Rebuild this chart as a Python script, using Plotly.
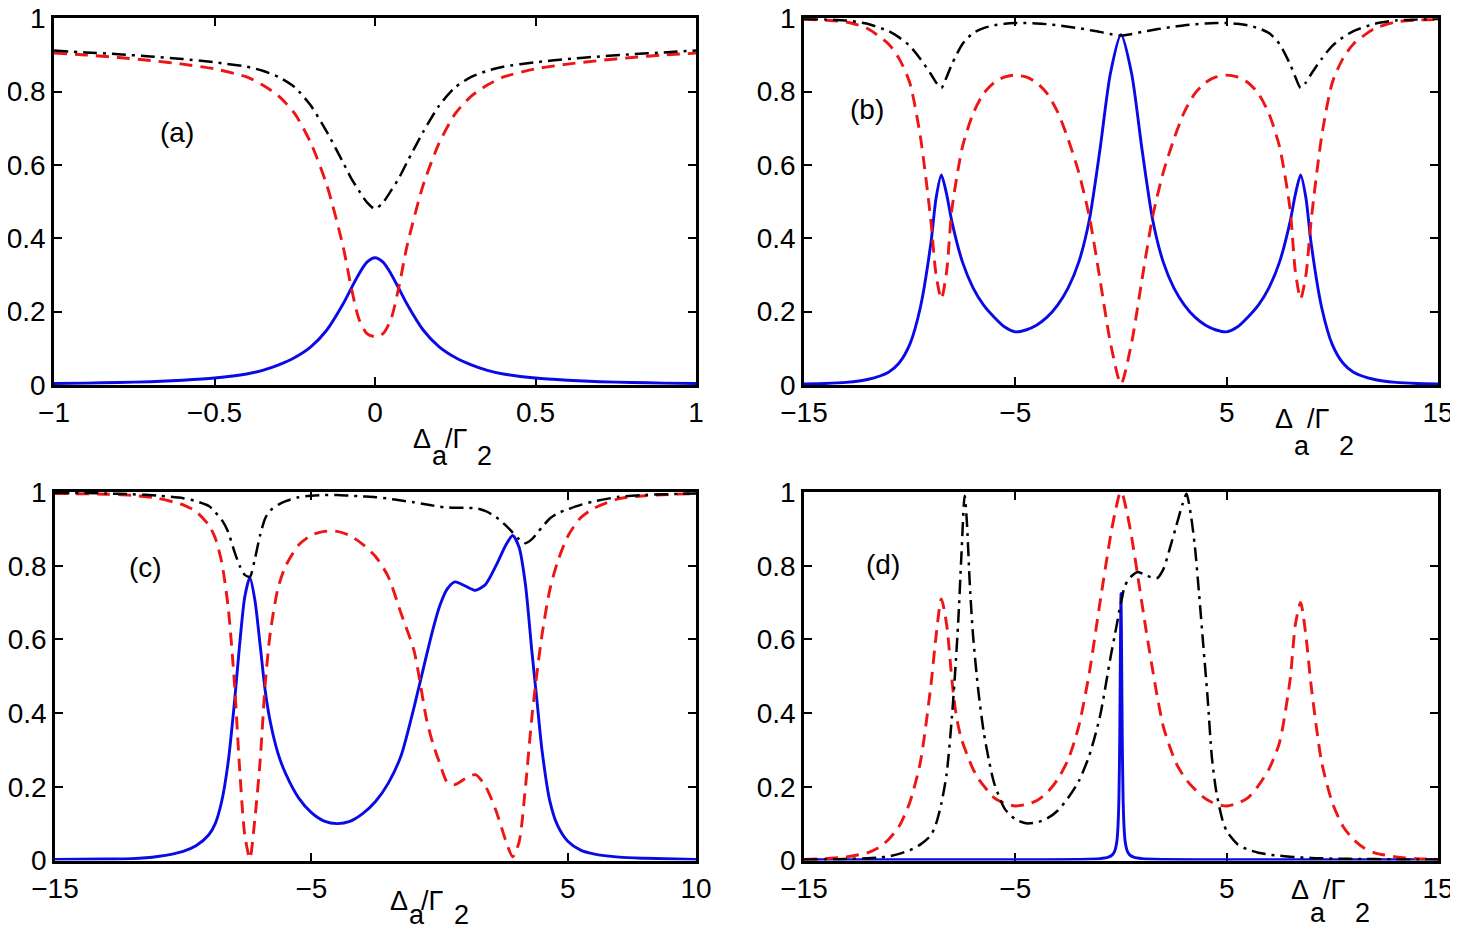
import plotly.graph_objects as go

# page is 1458x932; the html body has an 8px margin, so the figure itself is 8px smaller
OFF = 8
W, H = 1458 - OFF, 932 - OFF

# ---------------- data ----------------
# panel (a)
a_x = [-1, -0.9, -0.8, -0.7, -0.6, -0.5, -0.4, -0.35, -0.3, -0.25, -0.2, -0.15, -0.1, -0.075, -0.05, -0.025,
       0, 0.025, 0.05, 0.075, 0.1, 0.15, 0.2, 0.25, 0.3, 0.35, 0.4, 0.5, 0.6, 0.7, 0.8, 0.9, 1]
a_blue = [0.004, 0.005, 0.007, 0.009, 0.013, 0.019, 0.030, 0.040, 0.055, 0.075, 0.104, 0.150, 0.220, 0.262, 0.303, 0.335,
          0.347, 0.335, 0.303, 0.262, 0.220, 0.150, 0.104, 0.075, 0.055, 0.040, 0.030, 0.019, 0.013, 0.009, 0.007, 0.005, 0.004]
a_red = [0.905, 0.900, 0.893, 0.885, 0.875, 0.862, 0.840, 0.818, 0.788, 0.740, 0.660, 0.545, 0.380, 0.270, 0.180, 0.140,
         0.132, 0.140, 0.180, 0.270, 0.380, 0.545, 0.660, 0.740, 0.788, 0.818, 0.840, 0.862, 0.875, 0.885, 0.893, 0.900, 0.905]
a_black = [0.912, 0.907, 0.902, 0.896, 0.889, 0.880, 0.868, 0.857, 0.840, 0.812, 0.762, 0.690, 0.608, 0.565, 0.530, 0.498,
           0.480, 0.498, 0.530, 0.565, 0.608, 0.690, 0.762, 0.812, 0.840, 0.857, 0.868, 0.880, 0.889, 0.896, 0.902, 0.907, 0.912]

# panel (b)
b_x = [-15, -14, -13, -12, -11, -10.5, -10, -9.5, -9, -8.75, -8.5, -8.25, -8, -7.5, -7, -6.5, -6, -5.5, -5, -4.5,
       -4, -3.5, -3, -2.5, -2, -1.5, -1, -0.5, 0, 0.5, 1, 1.5, 2, 2.5, 3, 3.5, 4, 4.5, 5, 5.5, 6, 6.5, 7, 7.5,
       8, 8.25, 8.5, 8.75, 9, 9.5, 10, 10.5, 11, 12, 13, 14, 15]
b_blue = [0.003, 0.004, 0.007, 0.015, 0.035, 0.060, 0.11, 0.21, 0.385, 0.51, 0.573, 0.52, 0.445, 0.335, 0.265, 0.218, 0.185, 0.158, 0.145, 0.150,
          0.163, 0.185, 0.218, 0.265, 0.335, 0.45, 0.64, 0.85, 0.955, 0.85, 0.64, 0.45, 0.335, 0.265, 0.218, 0.185, 0.163, 0.150, 0.145, 0.158, 0.185, 0.218, 0.265, 0.335,
          0.445, 0.52, 0.573, 0.51, 0.385, 0.21, 0.11, 0.060, 0.035, 0.015, 0.007, 0.004, 0.003]
b_red = [0.997, 0.995, 0.99, 0.972, 0.93, 0.89, 0.825, 0.68, 0.45, 0.30, 0.235, 0.31, 0.48, 0.65, 0.74, 0.795, 0.825, 0.84, 0.845, 0.84,
         0.825, 0.795, 0.745, 0.67, 0.58, 0.46, 0.29, 0.115, 0.003, 0.115, 0.29, 0.46, 0.58, 0.67, 0.745, 0.795, 0.825, 0.84, 0.845, 0.84, 0.825, 0.795, 0.74, 0.65,
         0.48, 0.31, 0.235, 0.30, 0.45, 0.68, 0.825, 0.89, 0.93, 0.972, 0.99, 0.995, 0.997]
b_black = [0.998, 0.997, 0.994, 0.985, 0.965, 0.948, 0.925, 0.89, 0.848, 0.825, 0.81, 0.84, 0.875, 0.93, 0.96, 0.973, 0.981, 0.985, 0.987, 0.987,
           0.986, 0.984, 0.981, 0.977, 0.973, 0.968, 0.963, 0.957, 0.953, 0.957, 0.963, 0.968, 0.973, 0.977, 0.981, 0.984, 0.986, 0.987, 0.987, 0.985, 0.981, 0.973, 0.96, 0.93,
           0.875, 0.84, 0.81, 0.825, 0.848, 0.89, 0.925, 0.948, 0.965, 0.985, 0.994, 0.997, 0.998]

# panel (c)
c_x = [-15, -13, -12, -11, -10, -9.5, -9, -8.75, -8.5, -8.25, -8, -7.8, -7.6, -7.4, -7.2, -7, -6.8, -6.6, -6.3, -6,
       -5.5, -5, -4.5, -4, -3.5, -3, -2.5, -2, -1.5, -1, -0.5, -0.25, 0, 0.3, 0.6, 1, 1.4, 1.8, 2.2, 2.6, 2.85,
       3.1, 3.35, 3.6, 3.8, 4, 4.3, 4.6, 5, 5.5, 6, 7, 8, 10]
c_blue = [0.003, 0.004, 0.005, 0.011, 0.025, 0.04, 0.07, 0.1, 0.16, 0.265, 0.43, 0.585, 0.715, 0.768, 0.705, 0.585, 0.46, 0.375, 0.29, 0.235,
          0.17, 0.13, 0.107, 0.1, 0.106, 0.127, 0.16, 0.21, 0.285, 0.415, 0.56, 0.63, 0.69, 0.737, 0.756, 0.745, 0.733, 0.75, 0.80, 0.858, 0.882,
          0.85, 0.748, 0.567, 0.432, 0.296, 0.161, 0.095, 0.052, 0.028, 0.018, 0.009, 0.006, 0.003]
c_red = [0.996, 0.994, 0.991, 0.983, 0.965, 0.947, 0.91, 0.875, 0.81, 0.69, 0.48, 0.25, 0.07, 0.005, 0.116, 0.27, 0.48, 0.62, 0.74, 0.80,
         0.856, 0.883, 0.893, 0.893, 0.882, 0.858, 0.825, 0.77, 0.67, 0.57, 0.38, 0.315, 0.265, 0.212, 0.206, 0.222, 0.233, 0.2, 0.135, 0.05, 0.01,
         0.05, 0.2, 0.39, 0.51, 0.615, 0.735, 0.81, 0.88, 0.93, 0.955, 0.982, 0.99, 0.996]
c_black = [0.998, 0.996, 0.994, 0.99, 0.983, 0.975, 0.962, 0.945, 0.925, 0.892, 0.838, 0.80, 0.775, 0.77, 0.82, 0.883, 0.929, 0.95, 0.965, 0.975,
           0.986, 0.99, 0.992, 0.992, 0.99, 0.988, 0.986, 0.982, 0.977, 0.972, 0.966, 0.963, 0.96, 0.958, 0.957, 0.957, 0.956, 0.948, 0.932, 0.908, 0.89,
           0.872, 0.861, 0.872, 0.888, 0.905, 0.928, 0.942, 0.953, 0.965, 0.974, 0.987, 0.992, 0.996]

# panel (d)
d_x = [-15, -14, -13, -12, -11.5, -11, -10.5, -10, -9.5, -9, -8.75, -8.5, -8.25, -8, -7.85, -7.7, -7.55, -7.4, -7.3, -7.15,
       -7, -6.75, -6.5, -6.25, -6, -5.5, -5, -4.5, -4, -3.5, -3, -2.5, -2, -1.5, -1, -0.5, -0.3, -0.15, -0.075, 0,
       0.075, 0.15, 0.3, 0.5, 0.8, 1.2, 1.7, 2, 2.3, 2.6, 2.9, 3.1, 3.3, 3.5, 3.7, 3.9, 4.1, 4.3, 4.5, 4.8,
       5, 5.5, 6, 6.5, 7, 7.5, 8, 8.25, 8.5, 8.75, 9, 9.5, 10, 10.5, 11, 11.5, 12, 13, 14, 15]
d_red = [0.003, 0.005, 0.01, 0.021, 0.034, 0.057, 0.093, 0.157, 0.265, 0.473, 0.61, 0.71, 0.64, 0.49, 0.415, 0.365, 0.33, 0.305, 0.29, 0.268,
         0.248, 0.222, 0.203, 0.185, 0.17, 0.155, 0.148, 0.152, 0.162, 0.184, 0.22, 0.274, 0.364, 0.509, 0.698, 0.879, 0.94, 0.978, 0.994, 1.0,
         0.994, 0.978, 0.94, 0.879, 0.77, 0.62, 0.45, 0.364, 0.31, 0.265, 0.235, 0.218, 0.205, 0.193, 0.182, 0.172, 0.164, 0.158, 0.153, 0.149,
         0.148, 0.155, 0.17, 0.203, 0.248, 0.32, 0.49, 0.64, 0.70, 0.61, 0.473, 0.265, 0.157, 0.093, 0.057, 0.034, 0.021, 0.01, 0.005, 0.003]
d_black = [0.003, 0.003, 0.004, 0.006, 0.008, 0.011, 0.018, 0.028, 0.043, 0.068, 0.1, 0.155, 0.235, 0.39, 0.51, 0.65, 0.83, 0.99, 0.925, 0.745,
           0.61, 0.46, 0.35, 0.272, 0.21, 0.14, 0.112, 0.101, 0.103, 0.114, 0.135, 0.17, 0.215, 0.285, 0.39, 0.55, 0.61, 0.655, 0.68, 0.70,
           0.72, 0.74, 0.758, 0.772, 0.783, 0.773, 0.766, 0.79, 0.845, 0.905, 0.965, 0.995, 0.94, 0.85, 0.72, 0.58, 0.44, 0.28, 0.19, 0.11,
           0.08, 0.045, 0.03, 0.021, 0.016, 0.013, 0.01, 0.009, 0.008, 0.008, 0.007, 0.006, 0.005, 0.005, 0.004, 0.004, 0.004, 0.003, 0.003, 0.003]
d_blue_x = [-15, -5, -2, -1, -0.6, -0.4, -0.3, -0.2, -0.15, -0.1, -0.06, -0.03, 0, 0.03, 0.06, 0.1, 0.15, 0.2, 0.3, 0.4, 0.6, 1, 2, 5, 15]
d_blue = [0.002, 0.002, 0.003, 0.005, 0.009, 0.016, 0.025, 0.05, 0.085, 0.165, 0.33, 0.55, 0.725, 0.55, 0.33, 0.165, 0.085, 0.05, 0.025, 0.016, 0.009, 0.005, 0.003, 0.002, 0.002]

y_ticks = [0, 0.2, 0.4, 0.6, 0.8, 1]
y_tick_text = ["0", "0.2", "0.4", "0.6", "0.8", "1"]

# layout positions below are in page pixels of the reference
panels = [
    dict(label="(a)", xpx=(54, 696), ypx=(18.3, 385), xr=[-1, 1],
         xt=[-1, -0.5, 0, 0.5, 1], xtt=["\u22121", "\u22120.5", "0", "0.5", "1"],
         series=[(a_x, a_blue), (a_x, a_red), (a_x, a_black)],
         lab=(177, 133), title=(413, 448, 465)),
    dict(label="(b)", xpx=(804, 1438), ypx=(18.3, 385), xr=[-15, 15],
         xt=[-15, -5, 5, 15], xtt=["\u221215", "\u22125", "5", "15"],
         series=[(b_x, b_blue), (b_x, b_red), (b_x, b_black)],
         lab=(867, 110), title=(1275, 428, 455)),
    dict(label="(c)", xpx=(55, 696), ypx=(492, 860.5), xr=[-15, 10],
         xt=[-15, -5, 5, 10], xtt=["\u221215", "\u22125", "5", "10"],
         series=[(c_x, c_blue), (c_x, c_red), (c_x, c_black)],
         lab=(145, 567), title=(390, 910, 924)),
    dict(label="(d)", xpx=(804, 1438), ypx=(492, 860.5), xr=[-15, 15],
         xt=[-15, -5, 5, 15], xtt=["\u221215", "\u22125", "5", "15"],
         series=[(d_blue_x, d_blue), (d_x, d_red), (d_x, d_black)],
         lab=(883, 564), title=(1291, 899, 922)),
]

styles = [
    dict(color="#0a0ae6", width=2.9, dash="solid"),
    dict(color="#ee1515", width=2.9, dash="13px,8px"),
    dict(color="#000000", width=2.5, dash="14px,6px,3px,6px"),
]


def fx(p):
    return (p - OFF) / W


def fy(p):
    return 1 - (p - OFF) / H


FONT = "Liberation Sans, Arial, Helvetica, sans-serif"
fig = go.Figure()
annotations = []

for i, p in enumerate(panels):
    n = "" if i == 0 else str(i + 1)
    xa, ya = "x" + n, "y" + n
    for (xs, ys), st in zip(p["series"], styles):
        fig.add_trace(go.Scatter(x=xs, y=ys, mode="lines", xaxis=xa, yaxis=ya,
                                 line=dict(color=st["color"], width=st["width"], dash=st["dash"],
                                           shape="spline", smoothing=0.7),
                                 showlegend=False, hoverinfo="skip"))
    common = dict(showline=True, linecolor="black", linewidth=2.6, mirror="ticks",
                  ticks="inside", ticklen=8, tickwidth=2.2, tickcolor="black",
                  showgrid=False, zeroline=False, layer="below traces",
                  ticklabeloverflow="allow",
                  tickfont=dict(family=FONT, size=28, color="black"), automargin=False)
    fig.layout["xaxis" + n] = dict(common, domain=[fx(p["xpx"][0]), fx(p["xpx"][1])], range=p["xr"],
                                   tickmode="array", tickvals=p["xt"], ticktext=p["xtt"],
                                   anchor=ya, ticklabelstandoff=1)
    fig.layout["yaxis" + n] = dict(common, domain=[fy(p["ypx"][1]), fy(p["ypx"][0])], range=[0, 1],
                                   tickmode="array", tickvals=y_ticks, ticktext=y_tick_text,
                                   anchor=xa, ticklabelstandoff=0)
    # panel label
    annotations.append(dict(text=p["label"], xref="paper", yref="paper",
                            x=fx(p["lab"][0]), y=fy(p["lab"][1]), xanchor="center", yanchor="middle",
                            showarrow=False, font=dict(family=FONT, size=28, color="black")))
    # axis title  Δa/Γ2  (built from pieces to mimic the deep subscripts)
    L, base, sub = p["title"]
    pieces = [("\u0394", 9, base), ("a", 27, sub), ("/\u0393", 43, base), ("2", 71, sub)]
    for txt, dx, bl in pieces:
        annotations.append(dict(text=txt, xref="paper", yref="paper",
                                x=fx(L + dx), y=fy(bl - 9), xanchor="center", yanchor="middle",
                                showarrow=False, font=dict(family=FONT, size=27, color="black")))

fig.update_layout(width=W, height=H, margin=dict(l=0, r=0, t=0, b=0),
                  paper_bgcolor="white", plot_bgcolor="white", template="none",
                  annotations=annotations, showlegend=False)

fig.write_html("out.html")
